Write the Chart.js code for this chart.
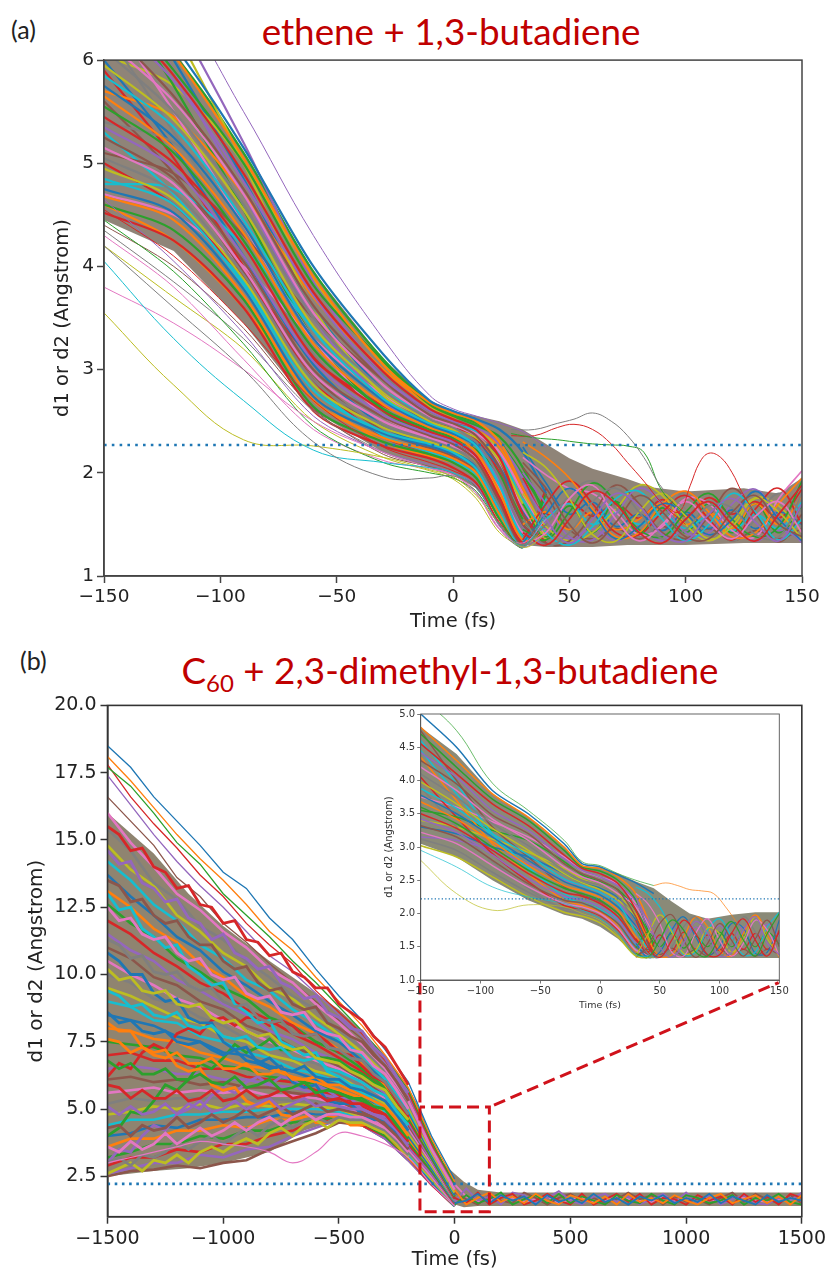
<!DOCTYPE html>
<html>
<head>
<meta charset="utf-8">
<script src="https://cdn.jsdelivr.net/npm/chart.js@4/dist/chart.umd.min.js"></script>
<style>
  html, body { margin: 0; padding: 0; background: #fff; }
  body { position: relative; width: 826px; height: 1272px; overflow: hidden; }
  canvas { position: absolute; }
  .panel { position: absolute; font: 25px "Lato", sans-serif; color: #222; }
  .title { position: absolute; font: 36.8px "Lato", sans-serif; color: #c00000; white-space: nowrap; transform: translateX(-50%); }
  .title sub { font-size: 24px; line-height: 0; }
</style>
</head>
<body>
<div class="panel" style="left:11px;top:14px">(a)</div>
<div class="title" style="left:451px;top:9px">ethene + 1,3-butadiene</div>
<div class="panel" style="left:20px;top:645px">(b)</div>
<div class="title" style="left:450px;top:648px">C<sub>60</sub> + 2,3-dimethyl-1,3-butadiene</div>
<canvas id="chartA" style="left:51px;top:46px"></canvas>
<canvas id="chartB" style="left:25px;top:690px"></canvas>
<canvas id="chartC" style="left:383px;top:706px"></canvas>
<script>
const tab10 = ['#1f77b4', '#ff7f0e', '#2ca02c', '#d62728', '#9467bd', '#8c564b', '#e377c2', '#7f7f7f', '#bcbd22', '#17becf'];

// (a) ethene + 1,3-butadiene
const xTicksA = [-150, -100, -50, 0, 50, 100, 150];
const yTicksA = [1, 2, 3, 4, 5, 6];
const cutoffA = 2.27;
const bandTimeA = [-150, -120, -90, -60, -30, -10, 0, 10, 20, 30, 40, 50, 60, 75, 85, 100, 125, 140, 150];
const bandTopA = [7.0, 6.1, 5.1, 3.95, 3.1, 2.7, 2.6, 2.55, 2.5, 2.42, 2.28, 2.14, 2.04, 1.94, 1.86, 1.82, 1.85, 1.8, 1.95];
const bandLowA = [4.45, 4.15, 3.45, 2.6, 2.2, 2.05, 1.98, 1.85, 1.58, 1.3, 1.28, 1.28, 1.28, 1.3, 1.3, 1.3, 1.32, 1.32, 1.32];
const timeA = [-150, -120, -90, -60, -30, -10, 0, 10, 20, 30, 40];
const approachA = [
  [7.0, 6.15, 5.15, 4.0, 3.15, 2.7, 2.6, 2.52, 2.42, 2.2, 1.8],
  [6.85, 6.05, 5.05, 3.9, 3.05, 2.68, 2.58, 2.5, 2.3, 1.85, 1.4],
  [6.7, 5.9, 5.0, 3.82, 3.08, 2.66, 2.55, 2.46, 2.35, 2.05, 1.55],
  [6.6, 5.85, 4.9, 3.75, 2.98, 2.62, 2.52, 2.42, 2.15, 1.6, 1.32],
  [6.45, 5.8, 4.82, 3.72, 2.92, 2.6, 2.5, 2.44, 2.28, 1.95, 1.5],
  [6.35, 5.65, 4.75, 3.62, 2.9, 2.56, 2.48, 2.36, 2.05, 1.5, 1.3],
  [6.2, 5.6, 4.7, 3.55, 2.85, 2.55, 2.46, 2.38, 2.2, 1.8, 1.38],
  [6.1, 5.5, 4.6, 3.5, 2.8, 2.52, 2.44, 2.3, 1.95, 1.45, 1.32],
  [5.95, 5.42, 4.55, 3.42, 2.78, 2.5, 2.42, 2.34, 2.12, 1.7, 1.35],
  [5.85, 5.35, 4.45, 3.38, 2.72, 2.48, 2.4, 2.26, 1.88, 1.38, 1.35],
  [5.75, 5.25, 4.4, 3.3, 2.7, 2.46, 2.38, 2.28, 2.05, 1.62, 1.3],
  [5.65, 5.15, 4.32, 3.25, 2.66, 2.44, 2.36, 2.2, 1.82, 1.35, 1.42],
  [5.55, 5.1, 4.25, 3.2, 2.62, 2.42, 2.34, 2.22, 1.98, 1.55, 1.3],
  [5.45, 5.0, 4.2, 3.12, 2.6, 2.4, 2.32, 2.16, 1.76, 1.32, 1.5],
  [5.35, 4.95, 4.1, 3.08, 2.56, 2.38, 2.3, 2.18, 1.9, 1.48, 1.32],
  [5.25, 4.85, 4.05, 3.0, 2.54, 2.36, 2.28, 2.12, 1.72, 1.3, 1.58],
  [5.15, 4.8, 3.98, 2.96, 2.5, 2.34, 2.26, 2.14, 1.84, 1.42, 1.36],
  [5.05, 4.72, 3.92, 2.9, 2.46, 2.32, 2.24, 2.08, 1.68, 1.3, 1.65],
  [4.95, 4.65, 3.88, 2.85, 2.44, 2.3, 2.22, 2.1, 1.78, 1.36, 1.4],
  [4.85, 4.6, 3.82, 2.8, 2.4, 2.28, 2.2, 2.04, 1.64, 1.28, 1.7],
  [4.75, 4.52, 3.78, 2.74, 2.38, 2.26, 2.18, 2.06, 1.72, 1.32, 1.46],
  [4.68, 4.45, 3.72, 2.7, 2.34, 2.22, 2.14, 2.0, 1.6, 1.3, 1.62],
  [4.6, 4.35, 3.68, 2.64, 2.3, 2.18, 2.1, 1.95, 1.55, 1.28, 1.8],
  [4.52, 4.25, 3.6, 2.6, 2.26, 2.14, 2.05, 1.9, 1.5, 1.3, 1.55],
  [6.9, 5.9, 4.7, 3.5, 2.7, 2.42, 2.32, 2.15, 1.75, 1.35, 1.45],
  [5.1, 4.9, 4.3, 3.5, 2.9, 2.6, 2.5, 2.42, 2.12, 1.6, 1.3],
  [6.5, 5.5, 4.4, 3.3, 2.55, 2.35, 2.28, 2.12, 1.7, 1.3, 1.6],
  [5.4, 5.2, 4.55, 3.6, 2.95, 2.62, 2.52, 2.46, 2.3, 1.9, 1.4],
  [7.4, 6.3, 5.0, 3.6, 2.75, 2.46, 2.36, 2.2, 1.8, 1.34, 1.42],
  [4.8, 4.75, 4.2, 3.4, 2.8, 2.56, 2.48, 2.4, 2.18, 1.72, 1.3],
  [6.0, 5.15, 4.1, 3.05, 2.45, 2.26, 2.2, 2.05, 1.62, 1.3, 1.7],
  [5.7, 5.45, 4.7, 3.7, 3.0, 2.66, 2.54, 2.44, 2.25, 1.8, 1.35],
  [6.8, 5.75, 4.55, 3.3, 2.6, 2.38, 2.3, 2.16, 1.8, 1.4, 1.35],
  [5.0, 4.6, 3.9, 3.1, 2.65, 2.5, 2.44, 2.32, 2.0, 1.5, 1.3],
  [7.6, 6.45, 5.2, 3.85, 2.95, 2.56, 2.44, 2.3, 1.9, 1.42, 1.3],
  [5.6, 4.9, 3.95, 2.95, 2.4, 2.24, 2.16, 2.02, 1.66, 1.3, 1.55],
  [4.7, 4.5, 4.0, 3.3, 2.75, 2.52, 2.46, 2.36, 2.1, 1.65, 1.32],
  [6.3, 5.3, 4.25, 3.15, 2.5, 2.32, 2.26, 2.1, 1.72, 1.32, 1.5],
  [6.05, 5.75, 5.0, 3.88, 3.05, 2.64, 2.52, 2.44, 2.2, 1.72, 1.3],
  [5.3, 4.7, 3.85, 2.85, 2.36, 2.2, 2.12, 1.98, 1.58, 1.28, 1.75],
  [7.1, 6.0, 4.85, 3.6, 2.8, 2.48, 2.38, 2.26, 1.98, 1.5, 1.3],
  [4.6, 4.25, 3.6, 2.75, 2.3, 2.16, 2.1, 1.96, 1.55, 1.3, 1.68],
  [6.6, 6.05, 5.1, 3.95, 3.1, 2.68, 2.56, 2.48, 2.3, 1.98, 1.62],
  [5.9, 5.05, 4.0, 2.9, 2.35, 2.2, 2.14, 2.0, 1.6, 1.28, 1.85]
];
// sparser trajectories under the bundle
const sparseA = [
  [4.45, 3.95, 3.25, 2.45, 2.1, 2.0, 1.95, 1.82, 1.5, 1.3, 1.5],
  [4.55, 4.1, 3.45, 2.7, 2.25, 2.1, 2.02, 1.9, 1.52, 1.3, 1.6],
  [4.65, 4.05, 3.35, 2.55, 2.2, 2.08, 2.0, 1.88, 1.48, 1.28, 1.4],
  [4.4, 4.0, 3.4, 2.62, 2.18, 2.06, 2.0, 1.86, 1.5, 1.3, 1.7],
  [4.3, 3.8, 3.1, 2.42, 2.12, 2.04, 1.98, 1.82, 1.46, 1.3, 1.5],
  [4.35, 3.85, 3.3, 2.6, 2.2, 2.05, 1.96, 1.8, 1.45, 1.28, 1.6],
  [4.2, 3.7, 3.2, 2.5, 2.15, 2.02, 1.94, 1.75, 1.42, 1.3, 1.45]
];
// lone trajectories on the edges of the bundle
const edgePurpleA = [7.2, 6.6, 5.5, 4.3, 3.3, 2.75, 2.62, 2.55, 2.48, 2.4, 2.25];
const edgeGreyA = [4.2, 3.6, 3.0, 2.3, 1.96, 1.95, 1.97, 1.85, 1.5, 1.3, 1.5];
const edgeCyanA = [4.05, 3.3, 2.7, 2.22, 2.1, 2.05, 2.0, 1.85, 1.5, 1.3, 1.6];
const edgePinkA = [3.8, 3.45, 3.0, 2.5, 2.2, 2.05, 1.98, 1.8, 1.45, 1.32, 1.55];
const edgeOliveA = [3.55, 2.85, 2.32, 2.26, 2.15, 2.03, 1.96, 1.78, 1.5, 1.28, 1.4];
const tailTimeA = [30, 40, 50, 60, 70, 80, 90, 100, 110, 120, 130, 140, 150];
const tailA = [
  [1.42, 1.3, 1.55, 1.82, 1.7, 1.42, 1.32, 1.55, 1.72, 1.5, 1.34, 1.6, 1.88],
  [1.9, 1.55, 1.32, 1.55, 1.8, 1.68, 1.4, 1.34, 1.6, 1.75, 1.52, 1.34, 1.7],
  [2.1, 1.85, 1.5, 1.32, 1.52, 1.78, 1.62, 1.38, 1.36, 1.62, 1.78, 1.5, 1.38],
  [1.3, 1.42, 1.75, 1.88, 1.55, 1.34, 1.5, 1.72, 1.52, 1.36, 1.58, 1.72, 1.42],
  [1.55, 1.3, 1.42, 1.72, 1.85, 1.62, 1.36, 1.45, 1.68, 1.66, 1.4, 1.38, 1.8],
  [2.2, 2.05, 1.75, 1.4, 1.34, 1.62, 1.8, 1.58, 1.36, 1.48, 1.75, 1.62, 1.36],
  [1.75, 1.42, 1.3, 1.48, 1.75, 1.82, 1.55, 1.34, 1.5, 1.8, 1.62, 1.35, 1.55],
  [1.32, 1.6, 1.85, 1.62, 1.36, 1.48, 1.7, 1.6, 1.4, 1.55, 1.82, 1.55, 1.34],
  [2.3, 2.15, 1.95, 1.65, 1.38, 1.42, 1.7, 1.82, 1.62, 1.38, 1.42, 1.7, 1.95],
  [1.45, 1.35, 1.62, 1.9, 1.72, 1.45, 1.38, 1.62, 1.8, 1.55, 1.38, 1.48, 1.92],
  [1.35, 1.7, 1.92, 1.7, 1.42, 1.4, 1.62, 1.78, 1.55, 1.35, 1.65, 1.85, 1.5],
  [2.0, 1.7, 1.38, 1.35, 1.6, 1.85, 1.7, 1.42, 1.42, 1.7, 1.84, 1.56, 1.32],
  [1.6, 1.32, 1.34, 1.6, 1.88, 1.7, 1.42, 1.36, 1.58, 1.85, 1.6, 1.33, 1.6],
  [2.15, 1.98, 1.85, 1.8, 1.62, 1.4, 1.48, 1.75, 1.7, 1.44, 1.38, 1.75, 2.02],
  [1.38, 1.5, 1.78, 1.92, 1.66, 1.38, 1.55, 1.82, 1.6, 1.34, 1.55, 1.8, 1.62],
  [1.8, 1.48, 1.34, 1.42, 1.65, 1.88, 1.78, 1.5, 1.34, 1.52, 1.76, 1.68, 1.42],
  [1.34, 1.55, 1.7, 1.5, 1.62, 1.5, 1.6, 1.46, 1.58, 1.44, 1.6, 1.46, 1.72],
  [2.25, 1.9, 1.6, 1.72, 1.48, 1.6, 1.44, 1.62, 1.46, 1.64, 1.46, 1.62, 1.5],
  [1.5, 1.62, 1.45, 1.62, 1.45, 1.55, 1.7, 1.5, 1.62, 1.46, 1.7, 1.5, 1.78],
  [1.7, 1.38, 1.68, 1.42, 1.72, 1.42, 1.66, 1.42, 1.7, 1.42, 1.7, 1.42, 1.68],
  [1.95, 1.6, 1.72, 1.58, 1.7, 1.56, 1.74, 1.58, 1.76, 1.6, 1.72, 1.56, 1.84],
  [1.35, 1.46, 1.36, 1.46, 1.34, 1.44, 1.34, 1.44, 1.34, 1.44, 1.34, 1.44, 1.36],
  [2.05, 1.78, 1.45, 1.36, 1.46, 1.36, 1.48, 1.36, 1.46, 1.34, 1.44, 1.36, 1.46]
];
const arcTimeA = [25, 35, 45, 52, 60, 68, 75, 82, 90, 100];
const arcGreyA = [2.42, 2.42, 2.48, 2.52, 2.58, 2.5, 2.36, 2.15, 1.85, 1.65];
const arcGreenA = [2.38, 2.34, 2.32, 2.3, 2.28, 2.27, 2.26, 2.2, 1.82, 1.6];
const arcRedA = [2.36, 2.36, 2.44, 2.47, 2.42, 2.28, 2.1, 1.92, 1.7, 1.5];
const arcTimeB = [90, 97, 102, 106, 110, 115, 120, 124, 130];
const arcRedB = [1.7, 1.62, 1.88, 2.1, 2.19, 2.15, 2.0, 1.82, 1.6];

// (b) C60 + 2,3-dimethyl-1,3-butadiene
const xTicksB = [-1500, -1000, -500, 0, 500, 1000, 1500];
const yTicksB = [2.5, 5, 7.5, 10, 12.5, 15, 17.5, 20];
const cutoffB = 2.22;
const bandTimeB = [-1500, -1300, -1150, -1000, -800, -650, -500, -400, -300, -200, -150, -100, -50, 0, 40, 100, 200, 1500];
const bandTopB = [16.0, 14.5, 13.0, 11.8, 10.5, 9.6, 8.7, 7.9, 7.0, 5.8, 5.0, 3.9, 3.0, 2.6, 2.3, 2.0, 1.9, 1.9];
const bandLowB = [2.5, 2.7, 2.8, 3.0, 3.4, 4.2, 4.6, 4.5, 4.0, 3.2, 2.8, 2.3, 1.8, 1.45, 1.35, 1.4, 1.4, 1.4];
const timeB = [-1500, -1400, -1300, -1200, -1100, -1000, -900, -800, -700, -600, -500, -400, -300, -200, -100, 0];
// the few far trajectories above the bundle
const farB = [
  [18.5, 17.7, 16.6, 15.7, 14.8, 13.8, 13.2, 12.1, 11.3, 10.2, 9.2, 8.3, 7.2, 6.0, 4.0, 2.4],
  [18.1, 17.2, 16.2, 15.2, 14.3, 13.5, 12.6, 11.6, 10.9, 9.9, 9.0, 8.1, 7.0, 5.8, 3.9, 2.3],
  [17.7, 17.0, 16.0, 14.9, 14.1, 13.0, 12.2, 11.4, 10.5, 9.7, 8.8, 7.9, 6.9, 5.7, 3.8, 2.2],
  [17.8, 16.6, 15.6, 14.7, 13.7, 12.9, 11.9, 11.1, 10.4, 9.4, 8.6, 7.8, 6.8, 5.6, 3.7, 2.2],
  [17.4, 16.3, 15.2, 14.2, 13.3, 12.5, 11.6, 10.7, 10.1, 9.3, 8.5, 7.7, 6.7, 5.5, 3.6, 2.1],
  [16.6, 15.7, 14.8, 13.6, 12.9, 11.9, 11.2, 10.4, 9.7, 9.0, 8.3, 7.6, 6.6, 5.4, 3.6, 2.1]
];
const approachB = [
  [16.0, 14.9, 14.0, 13.0, 12.4, 11.6, 11.0, 10.2, 9.7, 8.9, 8.2, 7.4, 6.5, 5.3, 3.5, 2.0],
  [15.4, 14.6, 13.4, 12.8, 11.8, 11.3, 10.5, 9.9, 9.2, 8.7, 7.9, 7.3, 6.4, 5.2, 3.5, 2.0],
  [14.8, 13.9, 13.3, 12.2, 11.6, 10.8, 10.3, 9.5, 9.1, 8.4, 7.8, 7.1, 6.3, 5.1, 3.4, 1.9],
  [14.2, 13.5, 12.6, 12.0, 11.1, 10.6, 9.8, 9.4, 8.7, 8.2, 7.6, 7.0, 6.1, 5.0, 3.4, 1.9],
  [13.7, 12.9, 12.2, 11.4, 10.9, 10.1, 9.6, 9.0, 8.5, 7.9, 7.5, 6.8, 6.0, 4.9, 3.3, 1.8],
  [13.1, 12.5, 11.7, 11.2, 10.4, 9.9, 9.2, 8.8, 8.2, 7.8, 7.2, 6.7, 5.9, 4.8, 3.3, 1.8],
  [12.6, 11.9, 11.4, 10.6, 10.1, 9.5, 9.1, 8.4, 8.1, 7.5, 7.1, 6.5, 5.8, 4.7, 3.2, 1.75],
  [12.0, 11.5, 10.8, 10.3, 9.7, 9.3, 8.7, 8.3, 7.8, 7.4, 6.9, 6.4, 5.7, 4.6, 3.2, 1.7],
  [11.5, 10.9, 10.5, 9.8, 9.4, 8.9, 8.5, 7.9, 7.6, 7.1, 6.8, 6.2, 5.6, 4.5, 3.1, 1.7],
  [11.0, 10.6, 9.9, 9.6, 9.0, 8.7, 8.1, 7.8, 7.3, 7.0, 6.6, 6.1, 5.5, 4.4, 3.1, 1.65],
  [10.5, 10.0, 9.6, 9.1, 8.8, 8.3, 7.9, 7.5, 7.2, 6.8, 6.5, 6.0, 5.4, 4.3, 3.0, 1.65],
  [10.0, 9.7, 9.1, 8.9, 8.4, 8.1, 7.6, 7.4, 6.9, 6.7, 6.3, 5.9, 5.3, 4.2, 3.0, 1.6],
  [9.5, 9.2, 8.8, 8.4, 8.2, 7.7, 7.5, 7.0, 6.8, 6.4, 6.2, 5.7, 5.2, 4.1, 2.9, 1.6],
  [9.0, 8.8, 8.3, 8.2, 7.7, 7.5, 7.1, 6.9, 6.5, 6.3, 6.0, 5.6, 5.1, 4.1, 2.9, 1.6],
  [8.5, 8.3, 8.1, 7.7, 7.5, 7.1, 7.0, 6.6, 6.4, 6.1, 5.9, 5.5, 5.0, 4.0, 2.8, 1.55],
  [8.0, 7.9, 7.6, 7.5, 7.1, 6.9, 6.6, 6.5, 6.2, 6.0, 5.7, 5.4, 4.9, 3.9, 2.8, 1.55],
  [7.5, 7.4, 7.3, 7.0, 6.9, 6.6, 6.5, 6.2, 6.1, 5.9, 5.6, 5.3, 4.8, 3.8, 2.7, 1.55],
  [7.0, 7.1, 6.8, 6.8, 6.5, 6.5, 6.2, 6.1, 6.0, 5.7, 5.5, 5.1, 4.7, 3.7, 2.7, 1.5],
  [6.5, 6.6, 6.5, 6.3, 6.3, 6.1, 6.1, 5.9, 5.8, 5.6, 5.4, 5.0, 4.6, 3.6, 2.6, 1.5],
  [6.1, 6.2, 6.0, 6.1, 5.9, 6.0, 5.8, 5.8, 5.6, 5.5, 5.3, 4.9, 4.5, 3.6, 2.6, 1.5],
  [5.6, 5.7, 5.8, 5.6, 5.7, 5.6, 5.7, 5.5, 5.5, 5.4, 5.2, 4.8, 4.4, 3.5, 2.5, 1.45],
  [5.2, 5.4, 5.3, 5.4, 5.4, 5.4, 5.3, 5.4, 5.3, 5.3, 5.1, 4.8, 4.3, 3.4, 2.5, 1.45],
  [4.8, 4.9, 5.1, 5.0, 5.2, 5.0, 5.2, 5.1, 5.2, 5.1, 5.0, 4.7, 4.2, 3.4, 2.4, 1.45],
  [4.4, 4.6, 4.6, 4.8, 4.8, 4.9, 4.9, 5.0, 5.0, 5.0, 4.9, 4.6, 4.2, 3.3, 2.4, 1.4],
  [4.0, 4.1, 4.4, 4.3, 4.6, 4.6, 4.7, 4.7, 4.9, 4.8, 4.8, 4.6, 4.1, 3.3, 2.3, 1.4],
  [3.6, 3.9, 3.9, 4.2, 4.2, 4.4, 4.3, 4.6, 4.6, 4.8, 4.7, 4.5, 4.1, 3.2, 2.3, 1.4],
  [3.2, 3.4, 3.7, 3.7, 4.0, 3.9, 4.2, 4.2, 4.5, 4.6, 4.7, 4.5, 4.0, 3.2, 2.3, 1.4],
  [2.9, 3.2, 3.2, 3.5, 3.4, 3.7, 3.7, 4.0, 4.2, 4.6, 4.6, 4.4, 4.0, 3.2, 2.2, 1.4],
  [2.6, 2.8, 3.0, 3.0, 3.3, 3.2, 3.5, 3.6, 4.0, 4.3, 4.6, 4.4, 3.9, 3.1, 2.2, 1.4],
  [2.5, 2.7, 2.75, 2.9, 2.8, 3.0, 3.1, 3.5, 3.8, 4.1, 4.5, 4.4, 3.9, 3.1, 2.2, 1.4]
];
const pinkB = [3.0, 3.2, 3.4, 3.6, 3.8, 3.7, 3.6, 3.4, 3.0, 3.4, 4.1, 4.0, 3.7, 3.2, 2.2, 1.4];
const jagTimeB = [-1500, -1450, -1400, -1350, -1300, -1250, -1200, -1150, -1100, -1050, -1000, -950, -900, -850, -800, -750, -700, -650, -600, -550, -500, -450, -400, -350, -300, -250, -200];
const jagB = [
  [15.5, 15.2, 14.6, 14.7, 14.0, 13.8, 13.2, 13.3, 12.6, 12.5, 11.9, 12.0, 11.3, 11.2, 10.7, 10.8, 10.1, 9.9, 9.5, 9.5, 8.9, 8.6, 8.3, 7.7, 7.3, 6.6, 5.9],
  [14.6, 14.1, 14.2, 13.4, 13.2, 12.7, 12.8, 12.1, 11.9, 11.3, 11.5, 10.8, 10.6, 10.2, 10.3, 9.7, 9.5, 9.1, 9.2, 8.6, 8.4, 8.0, 7.9, 7.3, 6.9, 6.2, 5.6],
  [13.5, 13.3, 12.7, 12.8, 12.2, 11.9, 12.0, 11.4, 11.1, 11.1, 10.5, 10.2, 10.3, 9.7, 9.4, 9.5, 8.9, 8.7, 8.8, 8.2, 8.0, 7.7, 7.5, 7.0, 6.6, 6.0, 5.3],
  [12.5, 12.0, 12.1, 11.5, 11.3, 11.4, 10.8, 10.5, 10.6, 10.0, 9.8, 9.9, 9.3, 9.1, 9.2, 8.6, 8.5, 8.6, 8.0, 7.8, 7.7, 7.2, 7.1, 6.6, 6.3, 5.7, 5.0],
  [11.3, 11.1, 10.6, 10.7, 10.1, 10.0, 10.1, 9.6, 9.4, 9.5, 9.0, 8.8, 8.9, 8.4, 8.2, 8.3, 7.8, 7.7, 7.8, 7.3, 7.2, 6.9, 6.8, 6.3, 6.0, 5.4, 4.8],
  [10.2, 9.8, 9.9, 9.4, 9.3, 9.4, 8.9, 8.8, 8.9, 8.4, 8.2, 8.3, 7.9, 7.7, 7.8, 7.4, 7.2, 7.3, 6.9, 6.8, 6.7, 6.4, 6.2, 5.9, 5.7, 5.1, 4.6],
  [9.4, 9.2, 8.8, 8.9, 8.5, 8.4, 8.6, 8.1, 8.0, 8.1, 7.7, 7.6, 7.7, 7.3, 7.2, 7.3, 6.9, 6.8, 6.9, 6.5, 6.4, 6.2, 6.0, 5.7, 5.5, 4.9, 4.4],
  [8.6, 8.2, 8.3, 7.9, 7.8, 7.9, 7.5, 7.4, 7.5, 7.2, 7.0, 7.2, 6.8, 6.7, 6.9, 6.5, 6.4, 6.6, 6.2, 6.1, 6.1, 5.8, 5.7, 5.5, 5.3, 4.8, 4.2],
  [7.6, 7.5, 7.1, 7.3, 7.0, 6.9, 7.1, 6.7, 6.7, 6.9, 6.5, 6.5, 6.7, 6.3, 6.3, 6.5, 6.1, 6.1, 6.2, 5.9, 5.9, 5.7, 5.5, 5.3, 5.1, 4.6, 4.0],
  [6.8, 6.5, 6.7, 6.3, 6.3, 6.5, 6.1, 6.1, 6.3, 6.0, 5.9, 6.2, 5.8, 5.9, 6.1, 5.7, 5.8, 6.0, 5.6, 5.7, 5.6, 5.4, 5.4, 5.1, 5.0, 4.4, 3.9],
  [5.9, 5.8, 5.4, 5.7, 5.4, 5.4, 5.7, 5.3, 5.4, 5.7, 5.3, 5.4, 5.7, 5.4, 5.5, 5.7, 5.4, 5.5, 5.6, 5.3, 5.4, 5.2, 5.2, 5.0, 4.8, 4.3, 3.8],
  [5.1, 4.8, 5.1, 4.8, 4.9, 5.2, 4.8, 5.0, 5.3, 4.9, 5.0, 5.3, 5.0, 5.2, 5.4, 5.0, 5.2, 5.4, 5.1, 5.2, 5.1, 5.0, 5.0, 4.8, 4.6, 4.2, 3.6],
  [4.3, 4.4, 4.0, 4.4, 4.2, 4.3, 4.7, 4.3, 4.5, 4.8, 4.5, 4.7, 5.0, 4.7, 4.9, 5.1, 4.8, 5.0, 5.2, 4.9, 5.0, 4.9, 4.8, 4.7, 4.4, 4.0, 3.5],
  [3.6, 3.4, 3.8, 3.5, 3.7, 4.1, 3.7, 4.0, 4.3, 4.0, 4.2, 4.5, 4.2, 4.5, 4.7, 4.4, 4.7, 4.9, 4.6, 4.8, 4.8, 4.7, 4.7, 4.5, 4.3, 3.9, 3.4],
  [3.0, 3.2, 2.9, 3.3, 3.2, 3.4, 3.8, 3.5, 3.8, 4.0, 3.7, 4.0, 4.3, 4.0, 4.4, 4.6, 4.3, 4.6, 4.7, 4.5, 4.7, 4.6, 4.6, 4.4, 4.2, 3.8, 3.3],
  [2.6, 2.8, 3.0, 2.7, 3.1, 3.0, 3.3, 3.0, 3.4, 3.6, 3.4, 3.7, 3.9, 3.7, 4.1, 4.3, 4.0, 4.4, 4.6, 4.3, 4.6, 4.5, 4.5, 4.3, 4.1, 3.7, 3.2],
  [13.0, 12.4, 12.5, 11.7, 11.4, 11.0, 11.1, 10.3, 10.0, 9.6, 9.7, 8.9, 8.6, 8.2, 8.3, 7.5, 7.3, 7.0, 7.1, 6.4, 6.2, 5.9, 5.8, 5.3, 4.9, 4.4, 3.9],
  [10.8, 10.5, 10.0, 10.0, 9.3, 9.0, 9.1, 8.4, 8.2, 8.2, 7.5, 7.2, 7.3, 6.7, 6.5, 6.6, 6.0, 5.8, 5.9, 5.3, 5.2, 5.2, 4.8, 4.6, 4.6, 4.1, 3.5],
  [8.2, 7.9, 7.9, 7.3, 7.1, 7.2, 6.6, 6.4, 6.5, 5.9, 5.7, 5.8, 5.3, 5.1, 5.3, 4.8, 4.7, 4.9, 4.5, 4.5, 4.7, 4.4, 4.4, 4.5, 4.2, 3.8, 3.4],
  [4.0, 4.3, 4.9, 4.8, 5.3, 5.9, 5.7, 6.1, 6.7, 6.5, 6.9, 7.4, 7.1, 7.3, 7.6, 7.2, 7.2, 7.3, 6.9, 6.9, 6.8, 6.5, 6.3, 6.0, 5.7, 5.1, 4.5],
  [6.2, 6.7, 6.5, 7.1, 7.4, 7.2, 7.8, 8.0, 7.8, 8.3, 8.4, 8.1, 8.4, 8.4, 8.1, 8.3, 8.1, 7.7, 7.8, 7.5, 7.1, 7.0, 6.6, 6.2, 6.0, 5.3, 4.7],
  [3.0, 3.5, 3.4, 4.0, 4.4, 4.2, 4.8, 5.2, 5.0, 5.5, 5.8, 5.6, 6.0, 6.2, 5.9, 6.2, 6.1, 5.8, 5.9, 5.7, 5.4, 5.4, 5.0, 4.8, 4.7, 4.2, 3.7]
];
const tailTimeB = [0, 50, 100, 150, 200, 250, 300, 350, 400, 450, 500, 550, 600, 650, 700, 750, 800, 850, 900, 950, 1000, 1050, 1100, 1150, 1200, 1250, 1300, 1350, 1400, 1450, 1500];
const tailB = [
  [1.5, 1.6, 1.85, 1.5, 1.8, 1.6, 1.75, 1.45, 1.8, 1.55, 1.7, 1.5, 1.85, 1.55, 1.7, 1.45, 1.75, 1.6, 1.8, 1.5, 1.7, 1.55, 1.85, 1.5, 1.75, 1.6, 1.45, 1.8, 1.55, 1.7, 1.6],
  [2.0, 1.45, 1.7, 1.9, 1.55, 1.75, 1.5, 1.85, 1.6, 1.45, 1.8, 1.65, 1.5, 1.75, 1.45, 1.85, 1.55, 1.7, 1.5, 1.8, 1.6, 1.45, 1.7, 1.85, 1.5, 1.65, 1.8, 1.5, 1.75, 1.45, 1.8],
  [1.45, 1.8, 1.5, 1.65, 1.9, 1.45, 1.65, 1.8, 1.5, 1.85, 1.5, 1.75, 1.6, 1.45, 1.8, 1.6, 1.5, 1.85, 1.6, 1.45, 1.8, 1.7, 1.5, 1.6, 1.8, 1.45, 1.7, 1.6, 1.85, 1.55, 1.45],
  [1.7, 1.5, 1.9, 1.45, 1.7, 1.85, 1.45, 1.6, 1.85, 1.6, 1.45, 1.85, 1.45, 1.65, 1.85, 1.55, 1.85, 1.45, 1.7, 1.65, 1.45, 1.8, 1.6, 1.75, 1.45, 1.85, 1.55, 1.75, 1.45, 1.85, 1.7],
  [1.55, 2.05, 1.6, 1.75, 1.45, 1.9, 1.8, 1.5, 1.7, 1.95, 1.6, 1.45, 1.75, 1.85, 1.55, 1.75, 1.45, 1.65, 1.85, 1.55, 1.9, 1.5, 1.8, 1.45, 1.65, 1.8, 1.5, 1.45, 1.7, 1.6, 1.9],
  [1.9, 1.65, 1.45, 1.8, 1.6, 1.5, 1.9, 1.7, 1.45, 1.7, 1.85, 1.6, 1.7, 1.5, 1.65, 1.9, 1.65, 1.8, 1.45, 1.75, 1.55, 1.65, 1.45, 1.7, 1.9, 1.55, 1.85, 1.65, 1.5, 1.8, 1.5],
  [2.2, 1.75, 1.55, 1.6, 1.75, 1.7, 1.55, 1.65, 1.75, 1.5, 1.65, 1.7, 1.55, 1.6, 1.75, 1.65, 1.6, 1.55, 1.75, 1.6, 1.7, 1.55, 1.65, 1.55, 1.75, 1.7, 1.6, 1.55, 1.65, 1.75, 1.55]
];
// red dashed zoom frame, in the axes' own units
const frameX = [-150, -150, 150, 150, -150];
const frameY = [9.7, 1.18, 1.18, 5.08, 5.08];
const zoomLineX = [170, 1400];
const zoomLineY = [5.15, 9.7];

// inset, same run on -150..150 fs
const xTicksC = [-150, -100, -50, 0, 50, 100, 150];
const yTicksC = [1, 1.5, 2, 2.5, 3, 3.5, 4, 4.5, 5];
const cutoffC = 2.22;
const bandTimeC = [-150, -120, -90, -60, -30, -15, 0, 15, 30, 45, 60, 75, 90, 110, 130, 150];
const bandTopC = [4.8, 4.4, 3.8, 3.45, 3.0, 2.72, 2.68, 2.6, 2.48, 2.38, 2.18, 2.0, 1.92, 1.98, 2.02, 2.02];
const bandLowC = [3.05, 2.85, 2.5, 2.2, 1.98, 1.92, 1.8, 1.62, 1.36, 1.33, 1.33, 1.33, 1.33, 1.33, 1.33, 1.33];
const timeC = [-150, -120, -90, -60, -30, -15, 0, 15, 30, 45];
const approachC = [
  [5.0, 4.5, 3.85, 3.5, 3.05, 2.75, 2.7, 2.58, 2.46, 2.3],
  [4.8, 4.3, 3.8, 3.45, 3.0, 2.72, 2.68, 2.55, 2.3, 1.7],
  [4.7, 4.2, 3.72, 3.4, 2.95, 2.7, 2.64, 2.5, 2.2, 1.5],
  [4.55, 4.1, 3.65, 3.32, 2.88, 2.68, 2.6, 2.45, 2.05, 1.38],
  [4.42, 4.05, 3.55, 3.25, 2.82, 2.65, 2.55, 2.42, 2.2, 1.8],
  [4.3, 3.95, 3.48, 3.2, 2.75, 2.6, 2.5, 2.35, 1.95, 1.36],
  [4.2, 3.85, 3.42, 3.1, 2.7, 2.55, 2.46, 2.3, 2.1, 1.6],
  [4.1, 3.75, 3.35, 3.02, 2.65, 2.5, 2.42, 2.26, 1.85, 1.34],
  [3.98, 3.65, 3.28, 2.95, 2.6, 2.46, 2.36, 2.2, 1.95, 1.5],
  [3.88, 3.58, 3.2, 2.88, 2.52, 2.42, 2.32, 2.15, 1.72, 1.35],
  [3.78, 3.5, 3.15, 2.8, 2.48, 2.38, 2.28, 2.1, 1.82, 1.42],
  [3.68, 3.42, 3.08, 2.72, 2.42, 2.34, 2.24, 2.05, 1.65, 1.36],
  [3.6, 3.35, 3.0, 2.65, 2.38, 2.3, 2.2, 2.0, 1.75, 1.4],
  [3.5, 3.28, 2.95, 2.6, 2.32, 2.26, 2.15, 1.95, 1.6, 1.34],
  [3.42, 3.22, 2.88, 2.52, 2.26, 2.2, 2.1, 1.9, 1.55, 1.36],
  [3.32, 3.15, 2.8, 2.45, 2.2, 2.16, 2.04, 1.85, 1.5, 1.34],
  [3.22, 3.05, 2.72, 2.4, 2.15, 2.1, 2.0, 1.78, 1.45, 1.36],
  [3.12, 2.95, 2.62, 2.32, 2.08, 2.04, 1.94, 1.72, 1.4, 1.34],
  [3.02, 2.85, 2.55, 2.25, 2.02, 1.96, 1.86, 1.65, 1.36, 1.34],
  [4.6, 3.95, 3.2, 2.7, 2.25, 2.16, 2.06, 1.85, 1.45, 1.34],
  [3.3, 3.2, 3.0, 2.85, 2.6, 2.46, 2.38, 2.24, 1.9, 1.4],
  [4.35, 3.7, 3.05, 2.6, 2.2, 2.12, 2.02, 1.82, 1.42, 1.36],
  [3.55, 3.45, 3.25, 3.1, 2.78, 2.58, 2.48, 2.36, 2.05, 1.55],
  [4.05, 3.45, 2.9, 2.48, 2.12, 2.06, 1.96, 1.75, 1.4, 1.34],
  [3.15, 3.1, 2.95, 2.75, 2.5, 2.42, 2.32, 2.18, 1.8, 1.36],
  [4.75, 4.0, 3.3, 2.85, 2.4, 2.28, 2.18, 2.0, 1.6, 1.35],
  [3.75, 3.6, 3.38, 3.15, 2.85, 2.64, 2.55, 2.44, 2.15, 1.7],
  [3.9, 3.3, 2.78, 2.38, 2.05, 2.0, 1.9, 1.68, 1.38, 1.34],
  [3.4, 3.3, 3.12, 2.92, 2.68, 2.52, 2.42, 2.28, 1.98, 1.45],
  [4.45, 3.8, 3.15, 2.68, 2.3, 2.2, 2.1, 1.92, 1.52, 1.36]
];
const edgeOliveC = [2.8, 2.3, 2.05, 2.13, 2.1, 2.0, 1.9, 1.68, 1.36, 1.34];
const edgeCyanC = [2.95, 2.7, 2.4, 2.25, 2.15, 2.05, 1.92, 1.7, 1.38, 1.36];
const edgeGreenC = [5.25, 4.75, 3.96, 3.55, 3.1, 2.78, 2.72, 2.6, 2.5, 2.42];
const tailTimeC = [30, 40, 50, 60, 70, 80, 90, 100, 110, 120, 130, 140, 150];
const tailC = [
  [1.4, 1.34, 1.6, 1.9, 1.75, 1.42, 1.36, 1.65, 1.88, 1.6, 1.36, 1.7, 2.0],
  [1.9, 1.5, 1.34, 1.6, 1.9, 1.7, 1.38, 1.38, 1.7, 1.92, 1.6, 1.36, 1.75],
  [2.15, 1.9, 1.5, 1.34, 1.55, 1.88, 1.7, 1.36, 1.42, 1.75, 1.95, 1.55, 1.38],
  [1.34, 1.5, 1.85, 1.98, 1.6, 1.34, 1.55, 1.85, 1.6, 1.36, 1.62, 1.9, 1.5],
  [2.3, 2.15, 1.85, 1.42, 1.36, 1.7, 1.92, 1.6, 1.36, 1.55, 1.9, 1.75, 1.36],
  [1.75, 1.4, 1.34, 1.5, 1.8, 1.95, 1.6, 1.36, 1.55, 1.95, 1.72, 1.38, 1.6],
  [1.36, 1.68, 1.98, 1.72, 1.4, 1.45, 1.78, 1.7, 1.42, 1.62, 1.95, 1.62, 1.36],
  [2.4, 2.3, 2.1, 1.75, 1.38, 1.42, 1.75, 1.92, 1.65, 1.38, 1.42, 1.8, 2.02],
  [1.55, 1.34, 1.42, 1.75, 1.95, 1.65, 1.38, 1.5, 1.85, 1.78, 1.4, 1.42, 1.9],
  [2.0, 1.62, 1.36, 1.38, 1.65, 1.95, 1.8, 1.45, 1.36, 1.7, 1.98, 1.68, 1.34],
  [1.48, 1.72, 1.5, 1.7, 1.48, 1.66, 1.5, 1.72, 1.5, 1.68, 1.5, 1.72, 1.54],
  [1.62, 1.42, 1.68, 1.44, 1.72, 1.46, 1.68, 1.44, 1.7, 1.46, 1.7, 1.46, 1.72],
  [2.25, 1.8, 1.62, 1.8, 1.6, 1.8, 1.62, 1.82, 1.62, 1.8, 1.62, 1.84, 1.66],
  [1.36, 1.46, 1.38, 1.48, 1.36, 1.46, 1.36, 1.46, 1.36, 1.46, 1.36, 1.46, 1.38]
];
const arcTimeC = [45, 55, 65, 75, 85, 95, 105, 115];
const arcC = [2.42, 2.46, 2.42, 2.36, 2.34, 2.3, 2.1, 1.85];

const minus = v => String(v).replace('-', '\u2212');

function points(xs, ys) {
  return xs.map((x, k) => ({ x: x, y: ys[k] }));
}

function curves(xs, rows, width, tension, offset) {
  return rows.map((row, i) => ({
    data: points(xs, row),
    borderColor: tab10[(i + offset) % 10],
    borderWidth: width,
    tension: tension,
    fill: false
  }));
}

function single(xs, ys, color, width, dash) {
  return { data: points(xs, ys), borderColor: color, borderWidth: width, borderDash: dash || [], tension: dash ? 0 : 0.4, fill: false };
}

// mixed tone under the curves, so that the gaps between them do not read as white
function band(xs, top, low, color) {
  return [
    { data: points(xs, top), borderWidth: 0, backgroundColor: color, fill: '+1', tension: 0 },
    { data: points(xs, low), borderWidth: 0, fill: false, tension: 0 }
  ];
}

function hline(x0, x1, y, width, dash) {
  return single([x0, x1], [y, y], '#1f77b4', width, dash);
}

const frame = {
  id: 'frame',
  afterDraw(chart, args, opts) {
    const a = chart.chartArea, ctx = chart.ctx;
    ctx.save();
    ctx.strokeStyle = opts.color;
    ctx.lineWidth = opts.width;
    ctx.strokeRect(a.left, a.top, a.width, a.height);
    ctx.restore();
  }
};

function makeChart(id, w, h, cfg) {
  const el = document.getElementById(id);
  el.width = w; el.height = h;
  el.style.width = w + 'px'; el.style.height = h + 'px';
  return new Chart(el, {
    type: 'line',
    data: { datasets: cfg.datasets },
    plugins: [frame],
    options: {
      responsive: false,
      animation: false,
      parsing: false,
      layout: { padding: cfg.padding },
      elements: { point: { radius: 0 } },
      plugins: { legend: { display: false }, tooltip: { enabled: false }, frame: { color: cfg.spine, width: cfg.spineWidth } },
      scales: {
        x: {
          type: 'linear', min: cfg.xTicks[0], max: cfg.xTicks[cfg.xTicks.length - 1],
          afterBuildTicks: s => { s.ticks = cfg.xTicks.map(v => ({ value: v })); },
          afterFit: s => { s.height = cfg.xHeight; },
          grid: { drawOnChartArea: false, color: cfg.spine, tickLength: cfg.tick, tickWidth: cfg.tickWidth },
          border: { color: cfg.spine, width: cfg.spineWidth },
          ticks: { color: cfg.text, maxRotation: 0, autoSkip: false, padding: cfg.tickPad, font: { family: 'DejaVu Sans', size: cfg.font }, callback: v => minus(v) },
          title: { display: true, text: 'Time (fs)', color: cfg.text, padding: cfg.titlePad, font: { family: 'DejaVu Sans', size: cfg.xTitleFont } }
        },
        y: {
          type: 'linear', min: cfg.yMin, max: cfg.yMax,
          afterBuildTicks: s => { s.ticks = cfg.yTicks.map(v => ({ value: v })); },
          afterFit: s => { s.width = cfg.yWidth; },
          grid: { drawOnChartArea: false, color: cfg.spine, tickLength: cfg.tick, tickWidth: cfg.tickWidth },
          border: { color: cfg.spine, width: cfg.spineWidth },
          ticks: { color: cfg.text, padding: cfg.tickPad, font: { family: 'DejaVu Sans', size: cfg.font }, callback: v => cfg.yFixed ? v.toFixed(1) : String(v) },
          title: { display: true, text: 'd1 or d2 (Angstrom)', color: cfg.text, padding: 0, font: { family: 'DejaVu Sans', size: cfg.yTitleFont } }
        }
      }
    }
  });
}

makeChart('chartA', 775, 590, {
  padding: { top: 10, right: 24, bottom: 0, left: 0 },
  yWidth: 53, xHeight: 60, yMin: 1, yMax: 6, xTicks: xTicksA, yTicks: yTicksA,
  font: 18.5, xTitleFont: 19.5, yTitleFont: 19.5, tick: 7, tickWidth: 1.5, tickPad: 3, titlePad: { top: 6, bottom: 2 },
  spine: '#444', spineWidth: 1.5, text: '#222',
  datasets: [
    hline(-150, 150, cutoffA, 2.6, [2.6, 5.2]),
    single(timeA, edgePurpleA, tab10[4], 1),
    single(timeA, edgeGreyA, tab10[7], 1),
    single(timeA, edgeCyanA, tab10[9], 1),
    single(timeA, edgePinkA, tab10[6], 1),
    single(timeA, edgeOliveA, tab10[8], 1),
    single(arcTimeA, arcGreyA, tab10[7], 1),
    single(arcTimeA, arcGreenA, tab10[2], 1),
    single(arcTimeA, arcRedA, tab10[3], 1),
    single(arcTimeB, arcRedB, tab10[3], 1),
    ...curves(timeA, sparseA, 1, 0.3, 2),
    ...curves(tailTimeA, tailA, 1.7, 0.4, 3),
    ...curves(timeA, approachA, 2.2, 0.3, 0),
    ...band(bandTimeA, bandTopA, bandLowA, '#8f8478')
  ]
});

makeChart('chartB', 805, 582, {
  padding: { top: 10.5, right: 0, bottom: 0, left: 0 },
  yWidth: 82.5, xHeight: 55.3, yMin: 1, yMax: 20, yFixed: true, xTicks: xTicksB, yTicks: yTicksB,
  font: 19, xTitleFont: 19.4, yTitleFont: 20, tick: 7, tickWidth: 1.5, tickPad: 4, titlePad: { top: 5, bottom: 0 },
  spine: '#333', spineWidth: 1.6, text: '#222',
  datasets: [
    single(frameX, frameY, '#d0121b', 3, [12, 6]),
    single(zoomLineX, zoomLineY, '#d0121b', 3, [12, 6]),
    hline(-1500, 1500, cutoffB, 2.6, [2.6, 4.6]),
    ...curves(tailTimeB, tailB, 1.8, 0, 0),
    single(timeB, pinkB, tab10[6], 1.2, null),
    ...curves(jagTimeB, jagB, 2.8, 0, 3),
    ...curves(timeB, approachB, 2.6, 0, 6),
    ...curves(timeB, farB, 1.3, 0, 0),
    ...band(bandTimeB, bandTopB, bandLowB, '#8f8470')
  ]
});

makeChart('chartC', 411, 305, {
  padding: { top: 6.3, right: 14.7, bottom: 0, left: 0 },
  yWidth: 37.7, xHeight: 31, yMin: 1, yMax: 5, yFixed: true, xTicks: xTicksC, yTicks: yTicksC,
  font: 10, xTitleFont: 9.5, yTitleFont: 10, tick: 3.5, tickWidth: 0.8, tickPad: 2, titlePad: { top: 3, bottom: 0 },
  spine: '#555', spineWidth: 0.9, text: '#333',
  datasets: [
    hline(-150, 150, cutoffC, 1.3, [1.3, 2.2]),
    single(arcTimeC, arcC, tab10[1], 0.7),
    single(timeC, edgeOliveC, tab10[8], 0.7),
    single(timeC, edgeCyanC, tab10[9], 0.7),
    single(timeC, edgeGreenC, tab10[2], 0.7),
    ...curves(tailTimeC, tailC, 1.2, 0.4, 2),
    ...curves(timeC, approachC, 1.5, 0.3, 0),
    ...band(bandTimeC, bandTopC, bandLowC, '#8a8a78')
  ]
});
</script>
</body>
</html>
